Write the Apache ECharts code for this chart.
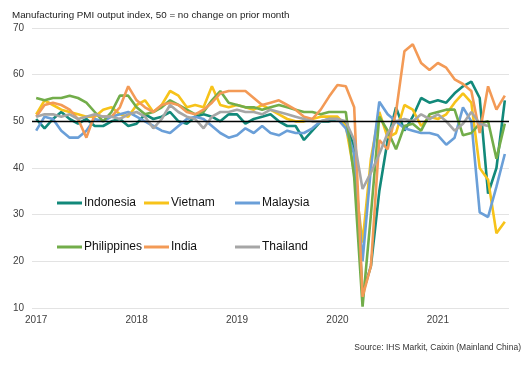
<!DOCTYPE html>
<html><head><meta charset="utf-8">
<script src="https://cdn.jsdelivr.net/npm/echarts@6/dist/echarts.min.js"></script>
<style>html,body{margin:0;padding:0;background:#fff}#c{width:528px;height:367px}</style>
</head><body><div id="c"></div>
<script>
const years = ['2017','2018','2019','2020','2021'];
const months = [];
for (let y = 2017; y <= 2021; y++) for (let m = 1; m <= 12; m++) { if (y === 2021 && m > 9) break; months.push(y + '-' + (m < 10 ? '0' + m : m)); }

const indonesia = [50.5,48.5,50.5,52,50.5,49.5,50.5,49,49,50,50.5,49,
  49.5,51.5,50.5,51,52,50,49.5,51,51.5,51,50,51.5,
  51.5,49.5,50.5,51,51.5,50,49,49,46,48,50,50,
  50.5,49.5,44.5,13,19,35,46,53,48,51,55,54,
  54.5,54,56,57.5,58.5,55,34.5,40,54.5];
const vietnam = [51.5,54.5,53.5,52.5,52,51.5,51,51,52.5,53,51.5,51,
  53.5,54.5,52,53.5,56.5,55.5,53,53.5,53,57.5,53.5,53,
  53.5,53,52.5,53.5,52.5,51.5,50.5,50,50,50.5,51,51,
  51,49,39,24,42,52,46.5,47.5,53.5,52.5,49,51,
  50.5,51.5,54,56,54,40,37.5,26,28.5];
const malaysia = [48,51,50.5,48,46.5,46.5,48,50.5,50,51,51.5,52,
  51,50,49,48,47.5,49,50.5,51,50.5,49,47.5,46.5,
  47,48.5,47.5,49,47.5,47,48,47.5,47.5,48.5,50,50.5,
  50.5,48.5,43,20,40,54.2,51.5,50,48.5,48,47.5,47.5,
  47,45,46.5,53,50,30.5,29.5,36,43];
const philippines = [55,54.5,55,55,55.5,55,54,52,50,52,55.5,55.5,
  53,51.5,52,53,54.5,53.5,52.5,51.5,52,54.5,56.5,54,
  53.5,53,53,52.5,53,53.5,53,52.5,52,52,51.5,52,
  52,52,38,10.3,30,51,48,44,49,49.5,48,51.5,
  52,52.5,52.5,47,47.5,49.5,50,42,49.5];
const india = [51,53.5,54,53.5,52.5,50.5,46.5,51.5,51,51,53,57.5,
  54.5,53,52,53.5,54,53.5,52,51.5,52.5,54,56,56.5,
  56.5,56.5,55,53.5,54,54.5,53.5,52.5,51,50.5,52.5,55.3,
  57.8,57.5,53,12.4,19,46,44,52,65,66.5,62.5,61,
  62.5,61.5,59,58,56.5,47.5,57.5,52.5,55.5];
const thailand = [51,51.5,51.5,51,51.5,50.5,51,51.5,51,51,50.5,51.5,
  52,51,48.5,50.5,53.5,52,51,50.5,48.5,51,52,52,
  52.5,52,52,51.5,52.5,52,51.5,51,50.5,50,50,50.5,
  50.5,50,46,35.5,39,43,47.5,50,50.5,50,51.5,50.5,
  51.5,50,48,49.5,52,49.5,49,null,null];

const names = ['Indonesia','Vietnam','Malaysia','Philippines','India','Thailand'];
const values = [indonesia, vietnam, malaysia, philippines, india, thailand];
const colors = ['#12897a','#f7c31a','#6a9fd8','#72ad4a','#f39a56','#a6a6a6'];
const legendPos = [[52,192],[139,192],[230,192],[52,236],[139,236],[230,236]];
const FONT = 'Liberation Sans, Arial, sans-serif';

const chart = echarts.init(document.getElementById('c'), null, {renderer:'canvas'});
const series = names.map((n,i) => ({
  name: n, type: 'line', data: values[i], symbol: 'none', showSymbol: false,
  lineStyle: {width: 2.6, color: colors[i]}, itemStyle: {color: colors[i]},
  connectNulls: false, z: 2 + i, animation: false
}));
series[0].markLine = {
  silent: true, symbol: 'none', animation: false, z: 20,
  label: {show: false},
  lineStyle: {color: '#000', width: 1.3, type: 'solid'},
  data: [{yAxis: 50}]
};
chart.setOption({
  animation: false,
  backgroundColor: '#fff',
  textStyle: {fontFamily: FONT},
  title: [{
    text: 'Manufacturing PMI output index, 50 = no change on prior month',
    left: 7, top: 5,
    textStyle: {fontSize: 9.8, fontWeight: 'normal', color: '#222', fontFamily: FONT}
  },{
    text: 'Source: IHS Markit, Caixin (Mainland China)',
    right: 2, top: 338,
    textStyle: {fontSize: 8.5, fontWeight: 'normal', color: '#333', fontFamily: FONT}
  }],
  legend: names.map((n,i) => ({
    data: [n], left: legendPos[i][0], top: legendPos[i][1],
    icon: 'rect', itemWidth: 25, itemHeight: 3, itemGap: 0,
    textStyle: {fontSize: 12, color: '#111', fontFamily: FONT, padding: [0,0,0,-3]},
    selectedMode: false
  })),
  grid: {left: 32, right: 19, top: 28, bottom: 59, containLabel: false},
  xAxis: {
    type: 'category', data: months, boundaryGap: true,
    axisLine: {show: false}, axisTick: {show: false},
    axisLabel: {interval: 0, margin: 7, fontSize: 10, color: '#404040',
      formatter: (v, idx) => (idx % 12 === 0 ? years[idx / 12] : '')},
    splitLine: {show: false}
  },
  yAxis: {
    type: 'value', min: 10, max: 70, interval: 10,
    axisLine: {show: false}, axisTick: {show: false},
    axisLabel: {margin: 8, fontSize: 10, color: '#404040'},
    splitLine: {lineStyle: {color: '#e3e3e3', width: 1}}
  },
  series: series
});
</script></body></html>
